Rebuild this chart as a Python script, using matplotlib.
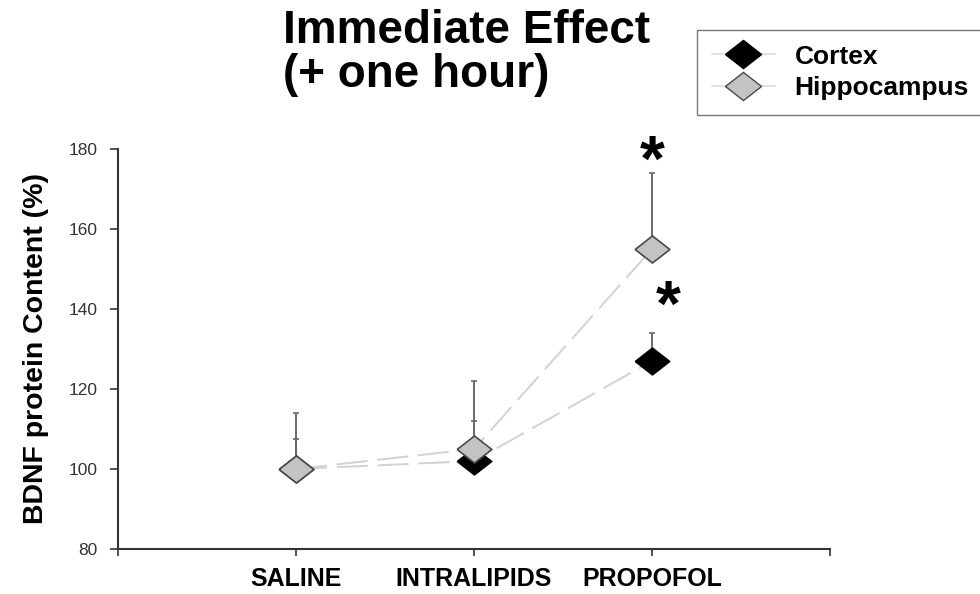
import matplotlib
matplotlib.use("Agg")
import matplotlib.pyplot as plt
from matplotlib.lines import Line2D
import numpy as np

plt.rcParams['font.family'] = ['Liberation Sans', 'DejaVu Sans']

# Data
groups = ["SALINE", "INTRALIPIDS", "PROPOFOL"]
cortex_mean = [100, 102, 127]
cortex_err = [7.5, 10, 7]
hippo_mean = [100, 105, 155]
hippo_err = [14, 17, 19]
y_ticks = [80, 100, 120, 140, 160, 180]
# significance marks: (x position, y position)
star_positions = [(3.0, 176.3), (3.09, 140)]

x = np.arange(1, len(groups) + 1)

fig = plt.figure(figsize=(9.8, 5.94), dpi=100)
ax = fig.add_axes([118 / 980, 1 - 549 / 594, (830 - 118) / 980, (549 - 149) / 594])

line_col = "#d2d2d2"
err_col = "#6a6a6a"

# connecting dashed lines
ax.plot(x, cortex_mean, color=line_col, lw=1.4, dashes=(16, 5), zorder=1)
ax.plot(x, hippo_mean, color=line_col, lw=1.4, dashes=(16, 5), zorder=1)

# upward error bars
ax.errorbar(x, cortex_mean, yerr=[np.zeros(len(x)), cortex_err], fmt='none',
            ecolor=err_col, elinewidth=1.4, capsize=2.5, capthick=1.2, zorder=2)
ax.errorbar(x, hippo_mean, yerr=[np.zeros(len(x)), hippo_err], fmt='none',
            ecolor=err_col, elinewidth=1.4, capsize=2.5, capthick=1.2, zorder=3)

diamond = [(-1, 0), (0, 0.78), (1, 0), (0, -0.78), (-1, 0)]
ax.plot(x, cortex_mean, linestyle='none', marker=diamond, markersize=25,
        markerfacecolor='black', markeredgecolor='black', markeredgewidth=1.0,
        zorder=4, label="Cortex")
ax.plot(x, hippo_mean, linestyle='none', marker=diamond, markersize=25,
        markerfacecolor='#c3c3c3', markeredgecolor='#4a4a4a', markeredgewidth=1.2,
        zorder=5, label="Hippocampus")

for sx, sy in star_positions:
    ax.text(sx, sy, "*", ha='center', va='center', fontsize=46,
            fontweight='bold', color='black', zorder=6)

ax.set_xlim(0, 4)
ax.set_ylim(80, 180)
ax.set_xticks([0, 1, 2, 3, 4])
ax.set_xticklabels([""] + groups + [""], fontsize=18, fontweight='bold')
ax.set_yticks(y_ticks)
ax.set_yticklabels([str(v) for v in y_ticks], fontsize=12.5, color='#333333')
ax.tick_params(axis='x', direction='out', length=5, width=1.2, color='#333333', pad=8)
ax.tick_params(axis='y', direction='out', length=6, width=1.2, color='#333333', pad=9)

for side in ['top', 'right']:
    ax.spines[side].set_visible(False)
for side in ['left', 'bottom']:
    ax.spines[side].set_color('#333333')
    ax.spines[side].set_linewidth(1.5)

ax.set_ylabel("BDNF protein Content (%)", fontsize=20.5, fontweight='bold', labelpad=14)

fig.text(283 / 980, 1 - 9 / 594, "Immediate Effect\n(+ one hour)", ha='left', va='top',
         fontsize=33, fontweight='bold', linespacing=1.0)

# legend with light connecting line through the markers
h1 = Line2D([], [], color='#dddddd', lw=1.2, marker=diamond, markersize=26,
            markerfacecolor='black', markeredgecolor='black')
h2 = Line2D([], [], color='#dddddd', lw=1.2, marker=diamond, markersize=26,
            markerfacecolor='#c3c3c3', markeredgecolor='#4a4a4a')
leg = fig.legend([h1, h2], ["Cortex", "Hippocampus"], loc='upper left',
                 bbox_to_anchor=(697 / 980, 1 - 30 / 594), frameon=True, fancybox=False,
                 edgecolor='#555555', prop={'size': 19, 'weight': 'bold'},
                 handlelength=2.4, handletextpad=0.75, labelspacing=0.3,
                 borderpad=0.55, borderaxespad=0)
leg.get_frame().set_linewidth(1.0)

fig.savefig("out.png", dpi=100)
